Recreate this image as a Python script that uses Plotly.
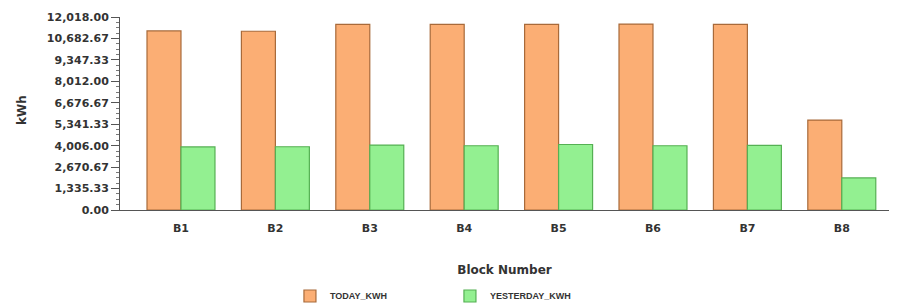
import plotly.graph_objects as go

blocks = ["B1", "B2", "B3", "B4", "B5", "B6", "B7", "B8"]
today_kwh = [11150, 11130, 11560, 11560, 11560, 11580, 11560, 5600]
yesterday_kwh = [3930, 3940, 4040, 4000, 4080, 4000, 4020, 2000]
tick_vals = [0, 1335.33, 2670.67, 4006.0, 5341.33, 6676.67, 8012.0, 9347.33, 10682.67, 12018.0]
tick_text = ["0.00", "1,335.33", "2,670.67", "4,006.00", "5,341.33", "6,676.67",
             "8,012.00", "9,347.33", "10,682.67", "12,018.00"]

FAM = "DejaVu Sans, sans-serif"
LFAM = "Liberation Sans, Arial, sans-serif"

fig = go.Figure()
fig.add_trace(go.Bar(x=blocks, y=today_kwh, name="TODAY_KWH",
                     marker=dict(color="#FBAE74", line=dict(color="#A86A3A", width=1.2))))
fig.add_trace(go.Bar(x=blocks, y=yesterday_kwh, name="YESTERDAY_KWH",
                     marker=dict(color="#93F091", line=dict(color="#55B053", width=1.2))))

fig.update_layout(
    width=908, height=308,
    margin=dict(l=112, r=27, t=9, b=106, autoexpand=False),
    paper_bgcolor="white", plot_bgcolor="white",
    font=dict(family=FAM, size=11, color="#333333"),
    barmode="group", bargap=0.28, bargroupgap=0.0,
    showlegend=True,
    legend=dict(orientation="h", x=0.221, xanchor="left", xref="paper",
                yref="container", y=0.065, yanchor="middle", entrywidth=115,
                font=dict(family=LFAM, size=9, color="#333333", weight="bold")),
    xaxis=dict(
        range=[-0.646, 7.5], showline=True, linecolor="#555555", linewidth=1,
        ticks="", showgrid=False, zeroline=False, automargin=False,
        ticklabelstandoff=8,
        tickfont=dict(family=FAM, size=11, color="#333333", weight="bold"),
        title=dict(text="Block Number", standoff=31,
                   font=dict(family=FAM, size=12, color="#333333", weight="bold")),
    ),
    yaxis=dict(
        range=[0, 12018], showline=True, linecolor="#555555", linewidth=1,
        tickvals=tick_vals, ticktext=tick_text, ticks="outside", ticklen=8,
        tickcolor="#555555", automargin=False,
        minor=dict(ticks="outside", ticklen=3, tickcolor="#777777", dtick=1335.333 / 4, tick0=0),
        showgrid=False, zeroline=False,
        tickfont=dict(family=FAM, size=11, color="#333333", weight="bold"),
    ),
    annotations=[dict(text="kWh", textangle=-90, xref="paper", yref="paper",
                      x=-0.1274, y=0.518, xanchor="center", yanchor="middle", showarrow=False,
                      font=dict(family=FAM, size=12, color="#333333", weight="bold"))],
)

fig.write_html("out.html")
